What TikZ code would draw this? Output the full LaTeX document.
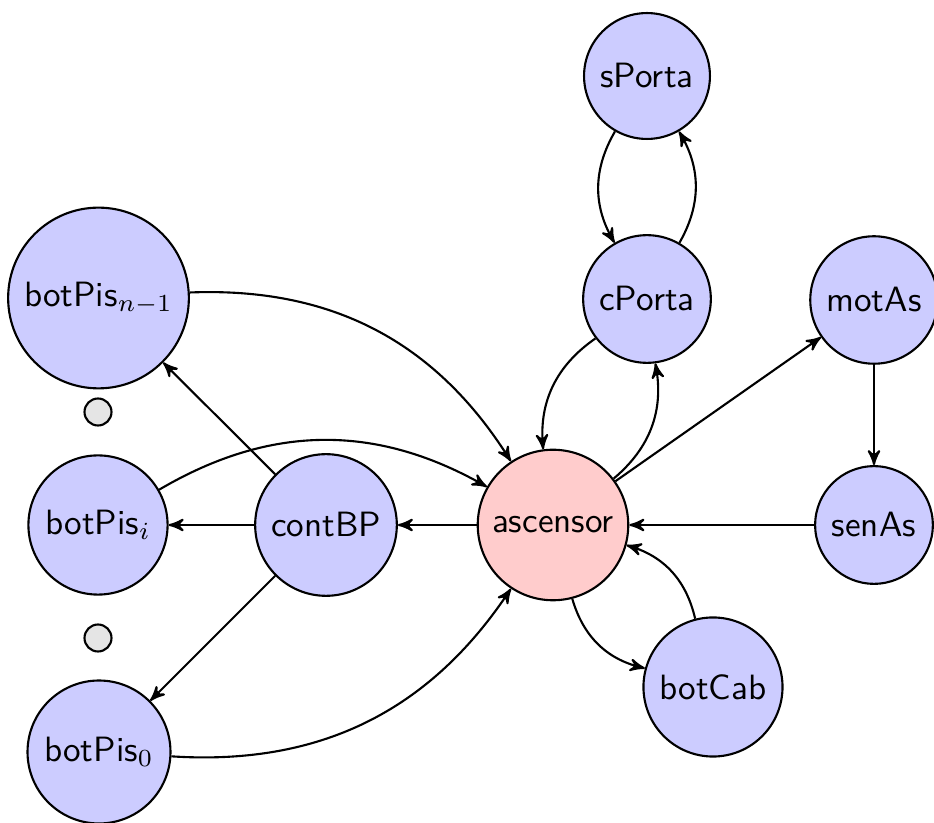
\documentclass[tikz,border=0pt]{standalone}
\usetikzlibrary{arrows}
\begin{document}
\begin{tikzpicture}[
  >=stealth',
  every edge/.style={draw,semithick},
  st/.style={circle,draw,semithick,fill=blue!20,font=\sffamily},
  hub/.style={circle,draw,semithick,fill=red!20,font=\sffamily},
  dotn/.style={circle,draw,semithick,fill=gray!20,inner sep=0pt,minimum size=0.27cm},
  conn/.style={->,semithick}
]
\useasboundingbox (0,0) rectangle (9.34,-8.23);
\node[st] (sPorta) at (6.47,-0.76) {sPorta};
\node[st] (cPorta) at (6.47,-2.99) {cPorta};
\node[st] (motAs) at (8.74,-3.00) {motAs};
\node[st] (botPisn) at (0.985,-2.98) {botPis$_{n-1}$};
\node[dotn] (dot1) at (0.98,-4.12) {};
\node[st] (botPisi) at (0.98,-5.25) {botPis$_{i}$};
\node[dotn] (dot2) at (0.98,-6.38) {};
\node[st] (botPis0) at (0.99,-7.52) {botPis$_{0}$};
\node[st] (contBP) at (3.26,-5.25) {contBP};
\node[hub] (asc) at (5.53,-5.25) {ascensor};
\node[st] (senAs) at (8.74,-5.25) {senAs};
\node[st] (botCab) at (7.13,-6.87) {botCab};

\path[conn]
  (botPisn) edge[bend left] (asc)
  (botPisi) edge[bend left] (asc)
  (botPis0) edge[bend right] (asc)
  (contBP) edge (botPisn)
  (contBP) edge (botPisi)
  (contBP) edge (botPis0)
  (asc) edge (contBP)
  (cPorta) edge[bend right] (asc)
  (asc) edge[bend right] (cPorta)
  (sPorta) edge[bend right] (cPorta)
  (cPorta) edge[bend right] (sPorta)
  (asc) edge (motAs)
  (motAs) edge (senAs)
  (senAs) edge (asc)
  (asc) edge[bend right] (botCab)
  (botCab) edge[bend right] (asc);
\end{tikzpicture}
\end{document}
